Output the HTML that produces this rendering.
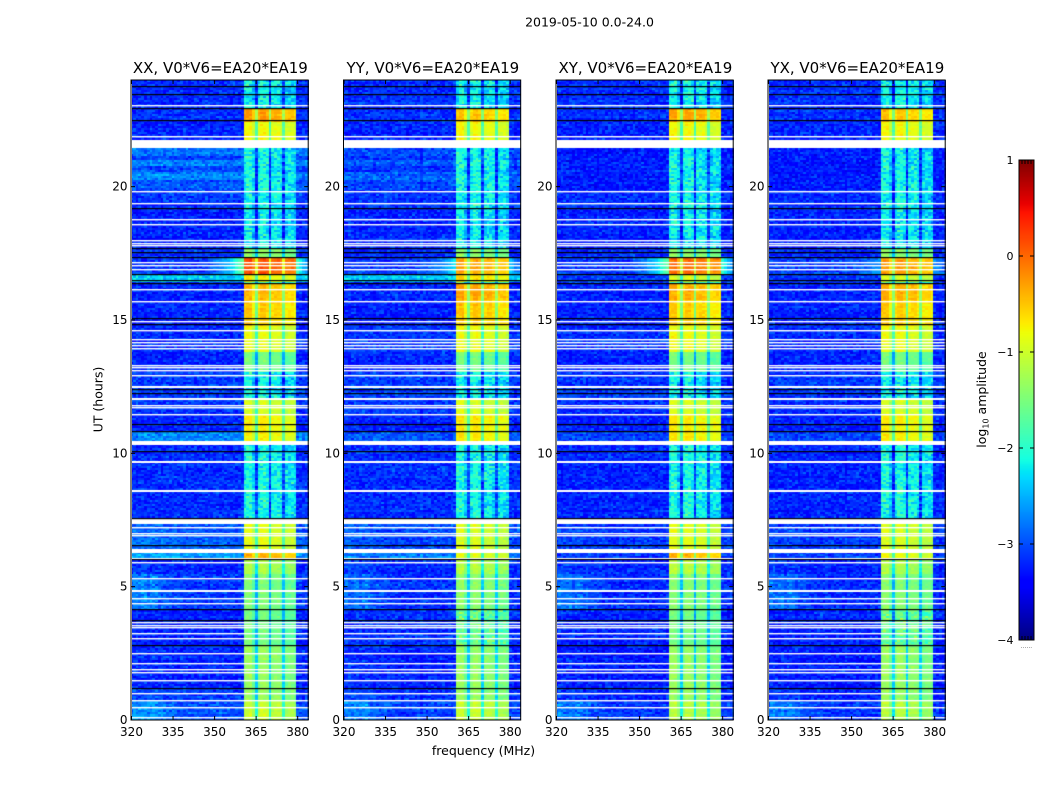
<!DOCTYPE html>
<html lang="en">
<head>
<meta charset="utf-8">
<title>2019-05-10 amplitude waterfall</title>
<style>
html,body{margin:0;padding:0;background:#fff;}
#chart{position:relative;width:1050px;height:800px;overflow:hidden;background:#fff;font-family:"DejaVu Sans","Liberation Sans",sans-serif;color:#000;}
canvas{position:absolute;display:block;}
svg{position:absolute;left:0;top:0;}
text{font-family:"DejaVu Sans","Liberation Sans",sans-serif;fill:#000;}
</style>
</head>
<body>
<div id="chart"></div>
<script>
// ---------- chart data ----------
const panelNames = ['XX', 'YY', 'XY', 'YX'];
const xTicks = [320, 335, 350, 365, 380];
const yTicks = [0, 5, 10, 15, 20];
const colorTicks = [-4, -3, -2, -1, 0, 1];

// start hour (UT) of each time segment
const segmentStart = [0, 0.75, 1.2, 2.8, 4.12, 5.44, 6.0, 6.3, 6.56, 7.55, 10.45, 10.82, 11.47, 12.04, 13.05, 13.8, 14.8, 15.75, 16.36, 16.46, 16.7, 17.36, 17.7, 19.2, 19.87, 20.25, 20.55, 20.74, 21.0, 21.15, 21.75, 22.45, 22.95];

// log10 amplitude of the off-band background per segment
const bgXX = [-2.98, -3.12, -3.22, -3.22, -3.12, -3.22, -2.55, -2.92, -2.95, -3.17, -2.7, -3.22, -3.12, -3.07, -3.22, -3.17, -3.22, -3.22, -3.12, -2.35, -3.12, -3.17, -3.22, -3.12, -2.97, -2.72, -3.05, -2.72, -3.05, -2.78, -3.22, -3.17, -3.17];
const bgYY = [-3.07, -3.17, -3.22, -3.17, -3.17, -3.17, -2.75, -2.97, -3.02, -3.17, -2.95, -3.22, -3.12, -3.07, -3.22, -3.12, -3.22, -3.22, -3.12, -2.4, -3.12, -3.17, -3.22, -3.12, -3.07, -2.95, -3.12, -2.95, -3.12, -3.0, -3.22, -3.17, -3.17];
const bgXY = [-3.12, -3.22, -3.27, -3.22, -3.17, -3.22, -3.1, -3.07, -3.12, -3.22, -3.07, -3.22, -3.17, -3.12, -3.22, -3.17, -3.22, -3.22, -3.17, -3.12, -3.12, -3.17, -3.22, -3.17, -3.27, -3.27, -3.27, -3.27, -3.27, -3.27, -3.22, -3.17, -3.17];
const bgYX = [-3.12, -3.22, -3.27, -3.22, -3.17, -3.22, -3.1, -3.07, -3.12, -3.22, -3.07, -3.22, -3.17, -3.12, -3.22, -3.17, -3.22, -3.22, -3.17, -3.12, -3.12, -3.17, -3.22, -3.17, -3.27, -3.27, -3.27, -3.27, -3.27, -3.27, -3.22, -3.17, -3.17];

// log10 amplitude of the 361-380 MHz band per segment
const bandXX = [-1.1, -1.4, -1.4, -1.6, -1.55, -1.25, -0.45, -0.95, -0.95, -2.15, -0.8, -0.8, -1.0, -2.2, -1.6, -0.9, -0.6, -0.5, -1.8, -0.8, 0.05, -1.45, -2.25, -2.2, -2.15, -2.15, -2.15, -2.15, -2.15, -2.15, -0.85, -0.35, -2.2];
const bandYY = [-1.1, -1.4, -1.4, -1.65, -1.45, -1.2, -0.9, -0.95, -1.0, -2.15, -0.75, -0.75, -1.0, -2.2, -1.6, -0.9, -0.55, -0.4, -1.8, -0.7, -0.4, -1.45, -2.25, -2.2, -2.15, -2.15, -2.15, -2.15, -2.15, -2.15, -0.85, -0.55, -2.2];
const bandXY = [-1.2, -1.4, -1.4, -1.6, -1.5, -1.2, -0.5, -0.95, -0.95, -2.15, -0.75, -0.75, -1.0, -2.2, -1.6, -0.9, -0.6, -0.45, -1.8, -1.0, -0.1, -1.45, -2.25, -2.2, -2.2, -2.2, -2.2, -2.2, -2.2, -2.2, -0.85, -0.4, -2.2];
const bandYX = [-1.2, -1.4, -1.4, -1.65, -1.5, -1.25, -0.9, -0.95, -1.0, -2.15, -0.8, -0.8, -1.0, -2.2, -1.6, -0.9, -0.6, -0.45, -1.8, -1.0, -0.4, -1.45, -2.25, -2.2, -2.2, -2.2, -2.2, -2.2, -2.2, -2.2, -0.85, -0.55, -2.2];

// low-frequency excess and RFI skirt per segment
const lowBoost = [0.4, 0.15, 0.05, 0, 0.4, 0.1, 0, 0, 0.1, 0, 0, 0, 0, 0, 0, 0, 0, 0, 0, 0, 0, 0, 0, 0, 0, 0, 0, 0, 0, 0, 0, 0, 0];
const skirtAmount = [0, 0, 0, 0, 0, 0, 0, 0, 0, 0, 0, 0, 0, 0, 0, 0, 0, 0, 0, 0, 1, 0, 0, 0, 0, 0, 0, 0, 0, 0, 0, 0, 0];
const skirtPanelScale = [1, 0.6, 1, 0.3];

// per-channel shapes, 320..384 MHz; null = outside the band
const bandOffset = [null,null,null,null,null,null,null,null,null,null,null,null,null,null,null,null,null,null,null,null,null,null,null,null,null,null,null,null,null,null,null,null,null,null,null,null,null,null,null,null,null,0.05,0.1,0.1,-0.2,-0.95,-0.05,0.1,0.1,0,-0.95,-0.05,0,0,-0.1,-0.9,-0.15,-0.1,-0.1,-0.2,null,null,null,null,null];
const lowShape = [0.6,1,1,0.7,0.9,1,0.6,0.9,1,0.8,0.5,0.6,0.4,0.3,0.3,0.2,0.2,0.1,0.1,0.1,0,0,0,0,0,0,0,0,0,0,0,0,0,0,0,0,0,0,0,0,0,0,0,0,0,0,0,0,0,0,0,0,0,0,0,0,0,0,0,0,0,0,0,0,0];
const skirtShape = [0,0,0,0,0,0,0,0,0,0,0,0,0,0,0,0,0,0,0,0,0,0,0,0,0,0,0,0.05,0.1,0.15,0.2,0.25,0.3,0.4,0.45,0.5,0.6,0.7,0.85,1,1.1,0,0,0,0,0,0,0,0,0,0,0,0,0,0,0,0,0,0,0,0.9,0.7,0.5,0.4,0.3];

const scatterA = [0.18, -0.22, 0.05, 0.27, -0.12, -0.3, 0.14, 0.02, -0.17, 0.31, -0.06, 0.21, -0.26, 0.09, -0.02, 0.24, -0.19, -0.09, 0.12, -0.28, 0.29, 0.0, -0.14];
const scatterB = [-0.1, 0.16, 0.04, -0.24, 0.22, -0.03, 0.11, -0.2, 0.28, -0.07, -0.16, 0.07, 0.19, -0.29, 0.01, 0.25, -0.13, 0.1, -0.05, -0.21, 0.3, 0.03, -0.18, 0.13, -0.08, 0.2, -0.25, 0.06, -0.01];

// flagged (white) and zeroed (black) times, in UT hours
const whiteLines = [23.04, 21.89, 19.81, 19.38, 18.78, 18.59, 17.97, 17.87, 17.79, 17.15, 17.03, 16.9, 16.15, 15.7, 14.96, 14.6, 14.28, 14.16, 14.05, 13.94, 13.31, 13.23, 13.09, 12.93, 11.8, 11.71, 11.45, 7.23, 6.99, 6.93, 6.06, 5.89, 5.31, 4.56, 4.36, 3.66, 3.56, 3.46, 3.26, 3.04, 2.48, 2.13, 1.88, 1.78, 1.49, 1.0, 0.74, 0.48, 0.1];
const whiteBarStart = [21.46, 12.47, 12.03, 10.32, 9.65, 8.57, 7.35, 6.27, 4.81];
const whiteBarEnd = [21.75, 12.53, 12.09, 10.46, 9.71, 8.63, 7.53, 6.42, 4.87];
const blackLines = [23.74, 23.46, 22.94, 22.49, 19.19, 17.7, 17.53, 17.35, 16.71, 16.47, 16.38, 15.05, 14.85, 12.39, 12.26, 11.09, 10.81, 10.06, 7.56, 6.56, 6.01, 4.13, 3.75, 2.81, 1.19];

const panelBg = {XX: bgXX, YY: bgYY, XY: bgXY, YX: bgYX};
const panelBand = {XX: bandXX, YY: bandYY, XY: bandXY, YX: bandYX};

// ---------- layout and scales ----------
const SVGNS = 'http://www.w3.org/2000/svg';
const chart = document.getElementById('chart');
const panelLeft = [131.5, 344, 556.5, 768.5];
const panelWidth = 176.7;
const panelTop = 80;
const panelHeight = 640;
const freqMin = 320, freqMax = 383.8, hourMax = 24, rowHours = 0.075;
const cbLeft = 1019, cbRight = 1034, cbTop = 160, cbBottom = 640, cMin = -4, cMax = 1;

function xScale(f, left) { return left + (f - freqMin) / (freqMax - freqMin) * panelWidth; }
function yScale(h) { return panelTop + panelHeight - h / hourMax * panelHeight; }
function cScale(v) { return cbBottom - (v - cMin) / (cMax - cMin) * (cbBottom - cbTop); }

function ramp(t, pts) {
  if (t <= pts[0][0]) return pts[0][1];
  for (let i = 1; i < pts.length; i++) {
    if (t <= pts[i][0]) {
      const a = pts[i - 1], b = pts[i];
      return a[1] + (b[1] - a[1]) * (t - a[0]) / (b[0] - a[0]);
    }
  }
  return pts[pts.length - 1][1];
}
function jet(v) {
  const t = Math.max(0, Math.min(1, (v - cMin) / (cMax - cMin)));
  const r = ramp(t, [[0.35, 0], [0.66, 1], [0.89, 1], [1, 0.5]]);
  const g = ramp(t, [[0.125, 0], [0.375, 1], [0.64, 1], [0.91, 0]]);
  const b = ramp(t, [[0, 0.5], [0.11, 1], [0.34, 1], [0.65, 0]]);
  return 'rgb(' + Math.round(r * 255) + ',' + Math.round(g * 255) + ',' + Math.round(b * 255) + ')';
}
function segmentOf(h) {
  let s = 0;
  for (let i = 0; i < segmentStart.length; i++) { if (segmentStart[i] <= h) s = i; }
  return s;
}

// ---------- heatmaps ----------
panelNames.forEach(function (name, p) {
  const left = panelLeft[p];
  const cv = document.createElement('canvas');
  cv.width = Math.round(panelWidth);
  cv.height = panelHeight;
  cv.style.left = Math.round(left) + 'px';
  cv.style.top = panelTop + 'px';
  
  
  chart.appendChild(cv);
  const ctx = cv.getContext('2d');
  const ox = Math.round(left);
  const bg = panelBg[name], band = panelBand[name];
  const rows = Math.round(hourMax / rowHours);
  for (let r = 0; r < rows; r++) {
    const h = (r + 0.5) * rowHours;
    const s = segmentOf(h);
    const yTop = Math.round(yScale((r + 1) * rowHours) - panelTop);
    const rowShift = 0.22 * scatterB[(r * 4 + p) % scatterB.length];
    for (let c = 0; c < bandOffset.length; c++) {
      const noise = scatterA[(r * 7 + c * 13 + ((r * c) % 17) * 5 + p * 3) % scatterA.length]
                  + scatterB[(r * 3 + c * 19 + ((r + 2) * (c + 3) % 13) * 2 + p * 5) % scatterB.length];
      let v;
      if (bandOffset[c] !== null) {
        v = band[s] + bandOffset[c] + rowShift * 0.6 + noise * (band[s] < -1.6 ? 0.8 : 0.25);
      } else {
        v = bg[s] + lowShape[c] * lowBoost[s] + rowShift + noise * 0.6;
        const lift = skirtAmount[s] * skirtPanelScale[p] * skirtShape[c];
        if (lift > 0) v += lift * 1.3 - noise * 0.4 * Math.min(1, lift * 2);
      }
      const f = freqMin + c;
      const x0 = xScale(f - 0.5, left) - ox;
      const x1 = xScale(f + 0.5, left) - ox;
      ctx.fillStyle = jet(v);
      ctx.fillRect(Math.round(x0), yTop, Math.round(x1) - Math.round(x0), 2);
    }
  }
  ctx.fillStyle = '#fff';
  whiteLines.forEach(function (h) { ctx.fillRect(0, Math.round(yScale(h) - panelTop - 0.5), cv.width, 1.4); });
  whiteBarStart.forEach(function (h, i) { ctx.fillRect(0, Math.round(yScale(whiteBarEnd[i]) - panelTop), cv.width, Math.round(yScale(h) - yScale(whiteBarEnd[i]))); });
  ctx.fillStyle = '#000';
  blackLines.forEach(function (h) { ctx.fillRect(0, Math.round(yScale(h) - panelTop - 0.5), cv.width, 1.2); });
});

// ---------- axes overlay ----------
const svg = document.createElementNS(SVGNS, 'svg');
svg.setAttribute('width', '1050');
svg.setAttribute('height', '800');
svg.setAttribute('viewBox', '0 0 1050 800');


chart.appendChild(svg);

function addLine(x1, y1, x2, y2, color, w) {
  const el = document.createElementNS(SVGNS, 'line');
  el.setAttribute('x1', x1); el.setAttribute('y1', y1);
  el.setAttribute('x2', x2); el.setAttribute('y2', y2);
  el.setAttribute('stroke', color); el.setAttribute('stroke-width', w);
  svg.appendChild(el);
  return el;
}
function addText(str, x, y, size, anchor) {
  const el = document.createElementNS(SVGNS, 'text');
  el.textContent = str;
  el.setAttribute('x', x); el.setAttribute('y', y);
  el.setAttribute('font-size', size);
  el.setAttribute('text-anchor', anchor);
  svg.appendChild(el);
  return el;
}

panelNames.forEach(function (name, p) {
  const left = panelLeft[p];
  const right = left + panelWidth;
  const key = name.toLowerCase();
  const frame = document.createElementNS(SVGNS, 'rect');
  frame.setAttribute('x', left - 0.5);
  frame.setAttribute('y', panelTop);
  frame.setAttribute('width', panelWidth + 0.5);
  frame.setAttribute('height', panelHeight);
  frame.setAttribute('fill', 'none');
  frame.setAttribute('stroke', '#000');
  frame.setAttribute('stroke-width', '1');
  
  
  svg.appendChild(frame);

  const title = addText(name + ', V0*V6=EA20*EA19', left + panelWidth / 2 + 0.5, 73, 15, 'middle');
  
  

  xTicks.forEach(function (f) {
    const x = xScale(f, left);
    const tb = addLine(x, panelTop + panelHeight, x, panelTop + panelHeight - 4, '#000', 1);
    
    
    const tt = addLine(x, panelTop, x, panelTop + 4, '#000', 1);
    
    
    const lb = addText(String(f), x, 736, 12, 'middle');
    
    
  });
  yTicks.forEach(function (h) {
    const y = yScale(h);
    const tl = addLine(left - 0.5, y, left + 3.5, y, '#000', 1);
    
    
    const tr = addLine(right, y, right - 4, y, '#000', 1);
    
    
    const lb = addText(String(h), left - 4, y + 4, 12, 'end');
    
    
  });
});

const suptitle = addText('2019-05-10 0.0-24.0', 589.5, 26.5, 12.5, 'middle');


const xLabel = addText('frequency (MHz)', 483.5, 755, 12.5, 'middle');


const yLabel = addText('UT (hours)', 0, 0, 12.5, 'middle');
yLabel.setAttribute('transform', 'translate(102.5,399.5) rotate(-90)');



// ---------- colorbar ----------
const cbCanvas = document.createElement('canvas');
cbCanvas.width = cbRight - cbLeft;
cbCanvas.height = cbBottom - cbTop;
cbCanvas.style.left = cbLeft + 'px';
cbCanvas.style.top = cbTop + 'px';


chart.insertBefore(cbCanvas, svg);
const cbCtx = cbCanvas.getContext('2d');
for (let i = 0; i < cbCanvas.height; i++) {
  cbCtx.fillStyle = jet(cMax - (i + 0.5) / cbCanvas.height * (cMax - cMin));
  cbCtx.fillRect(0, i, cbCanvas.width, 1);
}
const cbFrame = document.createElementNS(SVGNS, 'rect');
cbFrame.setAttribute('x', cbLeft);
cbFrame.setAttribute('y', cbTop);
cbFrame.setAttribute('width', cbRight - cbLeft);
cbFrame.setAttribute('height', cbBottom - cbTop);
cbFrame.setAttribute('fill', 'none');
cbFrame.setAttribute('stroke', '#000');
cbFrame.setAttribute('stroke-width', '1');


svg.appendChild(cbFrame);

colorTicks.forEach(function (v) {
  const y = cScale(v);
  const a = addLine(cbLeft, y, cbLeft + 4, y, '#000', 1);
  
  
  const b = addLine(cbRight, y, cbRight - 4, y, '#000', 1);
  
  
  const lb = addText(String(v).replace('-', '\u2212'), 1013.5, y + 4, 11, 'end');
  
  
});
for (let i = 1; i < 5; i++) {
  const x = cbLeft + i * 3;
  const t = addLine(x, cbTop, x, cbTop + 4, '#000', 1);
  
  
  const u = addLine(x, cbBottom, x, cbBottom - 4, '#000', 1);
  
  
}
const dots = addText('......', 1026.5, 648, 6, 'middle');
dots.setAttribute('style', 'fill:#555');



const cbLabel = document.createElementNS(SVGNS, 'text');
cbLabel.setAttribute('transform', 'translate(986,399.5) rotate(-90)');
cbLabel.setAttribute('text-anchor', 'middle');
cbLabel.setAttribute('font-size', '12.5');


const t1 = document.createElementNS(SVGNS, 'tspan');
t1.textContent = 'log';
cbLabel.appendChild(t1);
const t2 = document.createElementNS(SVGNS, 'tspan');
t2.textContent = '10';
t2.setAttribute('font-size', '8');
t2.setAttribute('dy', '2.5');
cbLabel.appendChild(t2);
const t3 = document.createElementNS(SVGNS, 'tspan');
t3.textContent = ' amplitude';
t3.setAttribute('dy', '-2.5');
cbLabel.appendChild(t3);
svg.appendChild(cbLabel);
</script>
</body>
</html>
